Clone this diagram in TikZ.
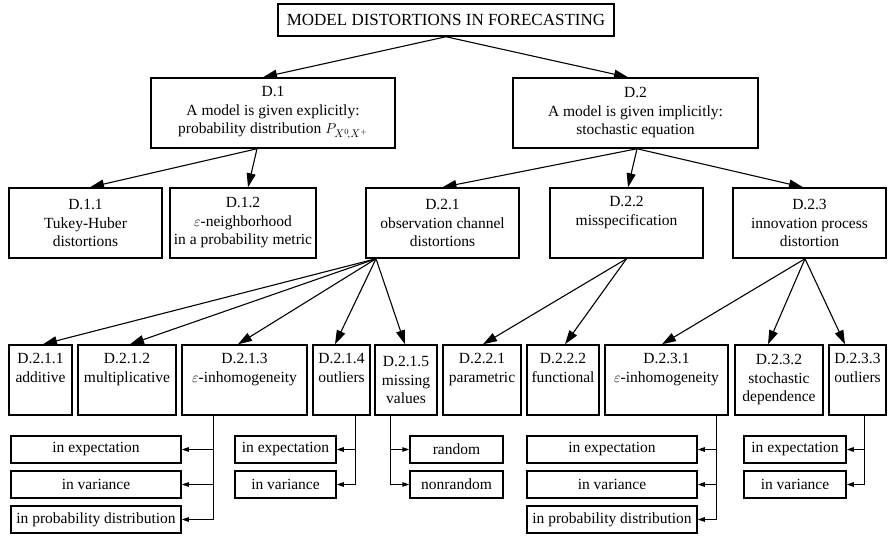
\documentclass[tikz,border=0pt]{standalone}
\usepackage{fontspec}
\setmainfont{Liberation Serif}
\usetikzlibrary{arrows.meta}
\begin{document}
\begin{tikzpicture}[x=1pt,y=-1pt,
 box/.style={draw, line width=1.5pt, inner sep=0pt, align=center, font=\fontsize{15.5}{18.5}\selectfont},
 big/.style={box, minimum height=70pt},
 sub/.style={box, minimum height=27pt},
 arr/.style={line width=1.1pt, -{Triangle[length=14pt,width=9pt]}},
 sarr/.style={line width=1pt, -{Triangle[length=7pt,width=4.5pt]}},
]
\useasboundingbox (0,0) rectangle (888,537);
\node[box, minimum width=336pt, minimum height=32pt, font=\fontsize{17}{20}\selectfont] (top) at (446,20) {MODEL DISTORTIONS IN FORECASTING};
\node[big, minimum width=244pt] (d1) at (273,113) {D.1\\A model is given explicitly:\\probability distribution $P_{X^0\!,X^+}$};
\node[big, minimum width=245pt] (d2) at (635.5,113) {D.2\\A model is given implicitly:\\stochastic equation};
\node[big, minimum width=153pt] (d11) at (85.5,223) {D.1.1\\Tukey-Huber\\distortions};
\node[big, minimum width=146pt] (d12) at (243,223) {D.1.2\\$\varepsilon$-neighborhood\\in a probability metric};
\node[big, minimum width=153pt] (d21) at (442.5,223) {D.2.1\\observation channel\\distortions};
\node[big, minimum width=153pt] (d22) at (626.5,223) {D.2.2\\misspecification\\\strut};
\node[big, minimum width=153pt] (d23) at (809.5,223) {D.2.3\\innovation process\\distortion};
\node[big, minimum width=63pt] (d211) at (40.5,380) {D.2.1.1\\additive\\\strut};
\node[big, minimum width=98pt] (d212) at (127,380) {D.2.1.2\\multiplicative\\\strut};
\node[big, minimum width=125pt] (d213) at (244.5,380) {D.2.1.3\\$\varepsilon$-inhomogeneity\\\strut};
\node[big, minimum width=57pt] (d214) at (341.5,380) {D.2.1.4\\outliers\\\strut};
\node[big, minimum width=62pt] (d215) at (406,380) {D.2.1.5\\missing\\values};
\node[big, minimum width=78pt] (d221) at (482,380) {D.2.2.1\\parametric\\\strut};
\node[big, minimum width=72pt] (d222) at (563,380) {D.2.2.2\\functional\\\strut};
\node[big, minimum width=123pt] (d231) at (666.5,380) {D.2.3.1\\$\varepsilon$-inhomogeneity\\\strut};
\node[big, minimum width=88pt] (d232) at (779,380) {D.2.3.2\\stochastic\\dependence};
\node[big, minimum width=57pt] (d233) at (857.5,380) {D.2.3.3\\outliers\\\strut};
\node[sub, minimum width=170pt] (s1a) at (96,449.5) {in expectation};
\node[sub, minimum width=170pt] (s1b) at (96,484.5) {in variance};
\node[sub, minimum width=170pt] (s1c) at (96,519.5) {in probability distribution};
\node[sub, minimum width=101pt] (s2a) at (285.5,449.5) {in expectation};
\node[sub, minimum width=101pt] (s2b) at (285.5,484.5) {in variance};
\node[sub, minimum width=93pt] (s3a) at (456.5,449.5) {random};
\node[sub, minimum width=93pt] (s3b) at (456.5,484.5) {nonrandom};
\node[sub, minimum width=170pt] (s4a) at (612,449.5) {in expectation};
\node[sub, minimum width=170pt] (s4b) at (612,484.5) {in variance};
\node[sub, minimum width=170pt] (s4c) at (612,519.5) {in probability distribution};
\node[sub, minimum width=102pt] (s5a) at (795,449.5) {in expectation};
\node[sub, minimum width=102pt] (s5b) at (795,484.5) {in variance};
% main arrows
\draw[arr] (top.south) -- ([xshift=-10pt]d1.north);
\draw[arr] (top.south) -- ([xshift=-7.5pt]d2.north);
\draw[arr] ([xshift=-16pt]d1.south) -- ([xshift=4.5pt]d11.north);
\draw[arr] ([xshift=-16pt]d1.south) -- ([xshift=5pt]d12.north);
\draw[arr] ([xshift=1.5pt]d2.south) -- (d21.north);
\draw[arr] ([xshift=1.5pt]d2.south) -- ([xshift=1.5pt]d22.north);
\draw[arr] ([xshift=1.5pt]d2.south) -- ([xshift=-6.5pt]d23.north);
\draw[arr] ([xshift=-66.5pt]d21.south) -- ([xshift=2.5pt]d211.north);
\draw[arr] ([xshift=-66.5pt]d21.south) -- ([xshift=3pt]d212.north);
\draw[arr] ([xshift=-66.5pt]d21.south) -- ([xshift=-6.5pt]d213.north);
\draw[arr] ([xshift=-66.5pt]d21.south) -- ([xshift=-6.5pt]d214.north);
\draw[arr] ([xshift=-66.5pt]d21.south) -- ([xshift=-1pt]d215.north);
\draw[arr] (d22.south) -- ([xshift=1pt]d221.north);
\draw[arr] (d22.south) -- ([xshift=2pt]d222.north);
\draw[arr] ([xshift=-4.5pt]d23.south) -- ([xshift=-4.5pt]d231.north);
\draw[arr] ([xshift=-4.5pt]d23.south) -- ([xshift=-11pt]d232.north);
\draw[arr] ([xshift=-4.5pt]d23.south) -- ([xshift=-12.5pt]d233.north);
% sub arrows
\draw[sarr] ([xshift=-31.5pt]d213.south) |- (s1a.east);
\draw[sarr] ([xshift=-31.5pt]d213.south) |- (s1b.east);
\draw[sarr] ([xshift=-31.5pt]d213.south) |- (s1c.east);
\draw[sarr] ([xshift=13.5pt]d214.south) |- (s2a.east);
\draw[sarr] ([xshift=13.5pt]d214.south) |- (s2b.east);
\draw[sarr] ([xshift=-16pt]d215.south) |- (s3a.west);
\draw[sarr] ([xshift=-16pt]d215.south) |- (s3b.west);
\draw[sarr] ([xshift=49.5pt]d231.south) |- (s4a.east);
\draw[sarr] ([xshift=49.5pt]d231.south) |- (s4b.east);
\draw[sarr] ([xshift=49.5pt]d231.south) |- (s4c.east);
\draw[sarr] ([xshift=6.5pt]d233.south) |- (s5a.east);
\draw[sarr] ([xshift=6.5pt]d233.south) |- (s5b.east);
\end{tikzpicture}
\end{document}
